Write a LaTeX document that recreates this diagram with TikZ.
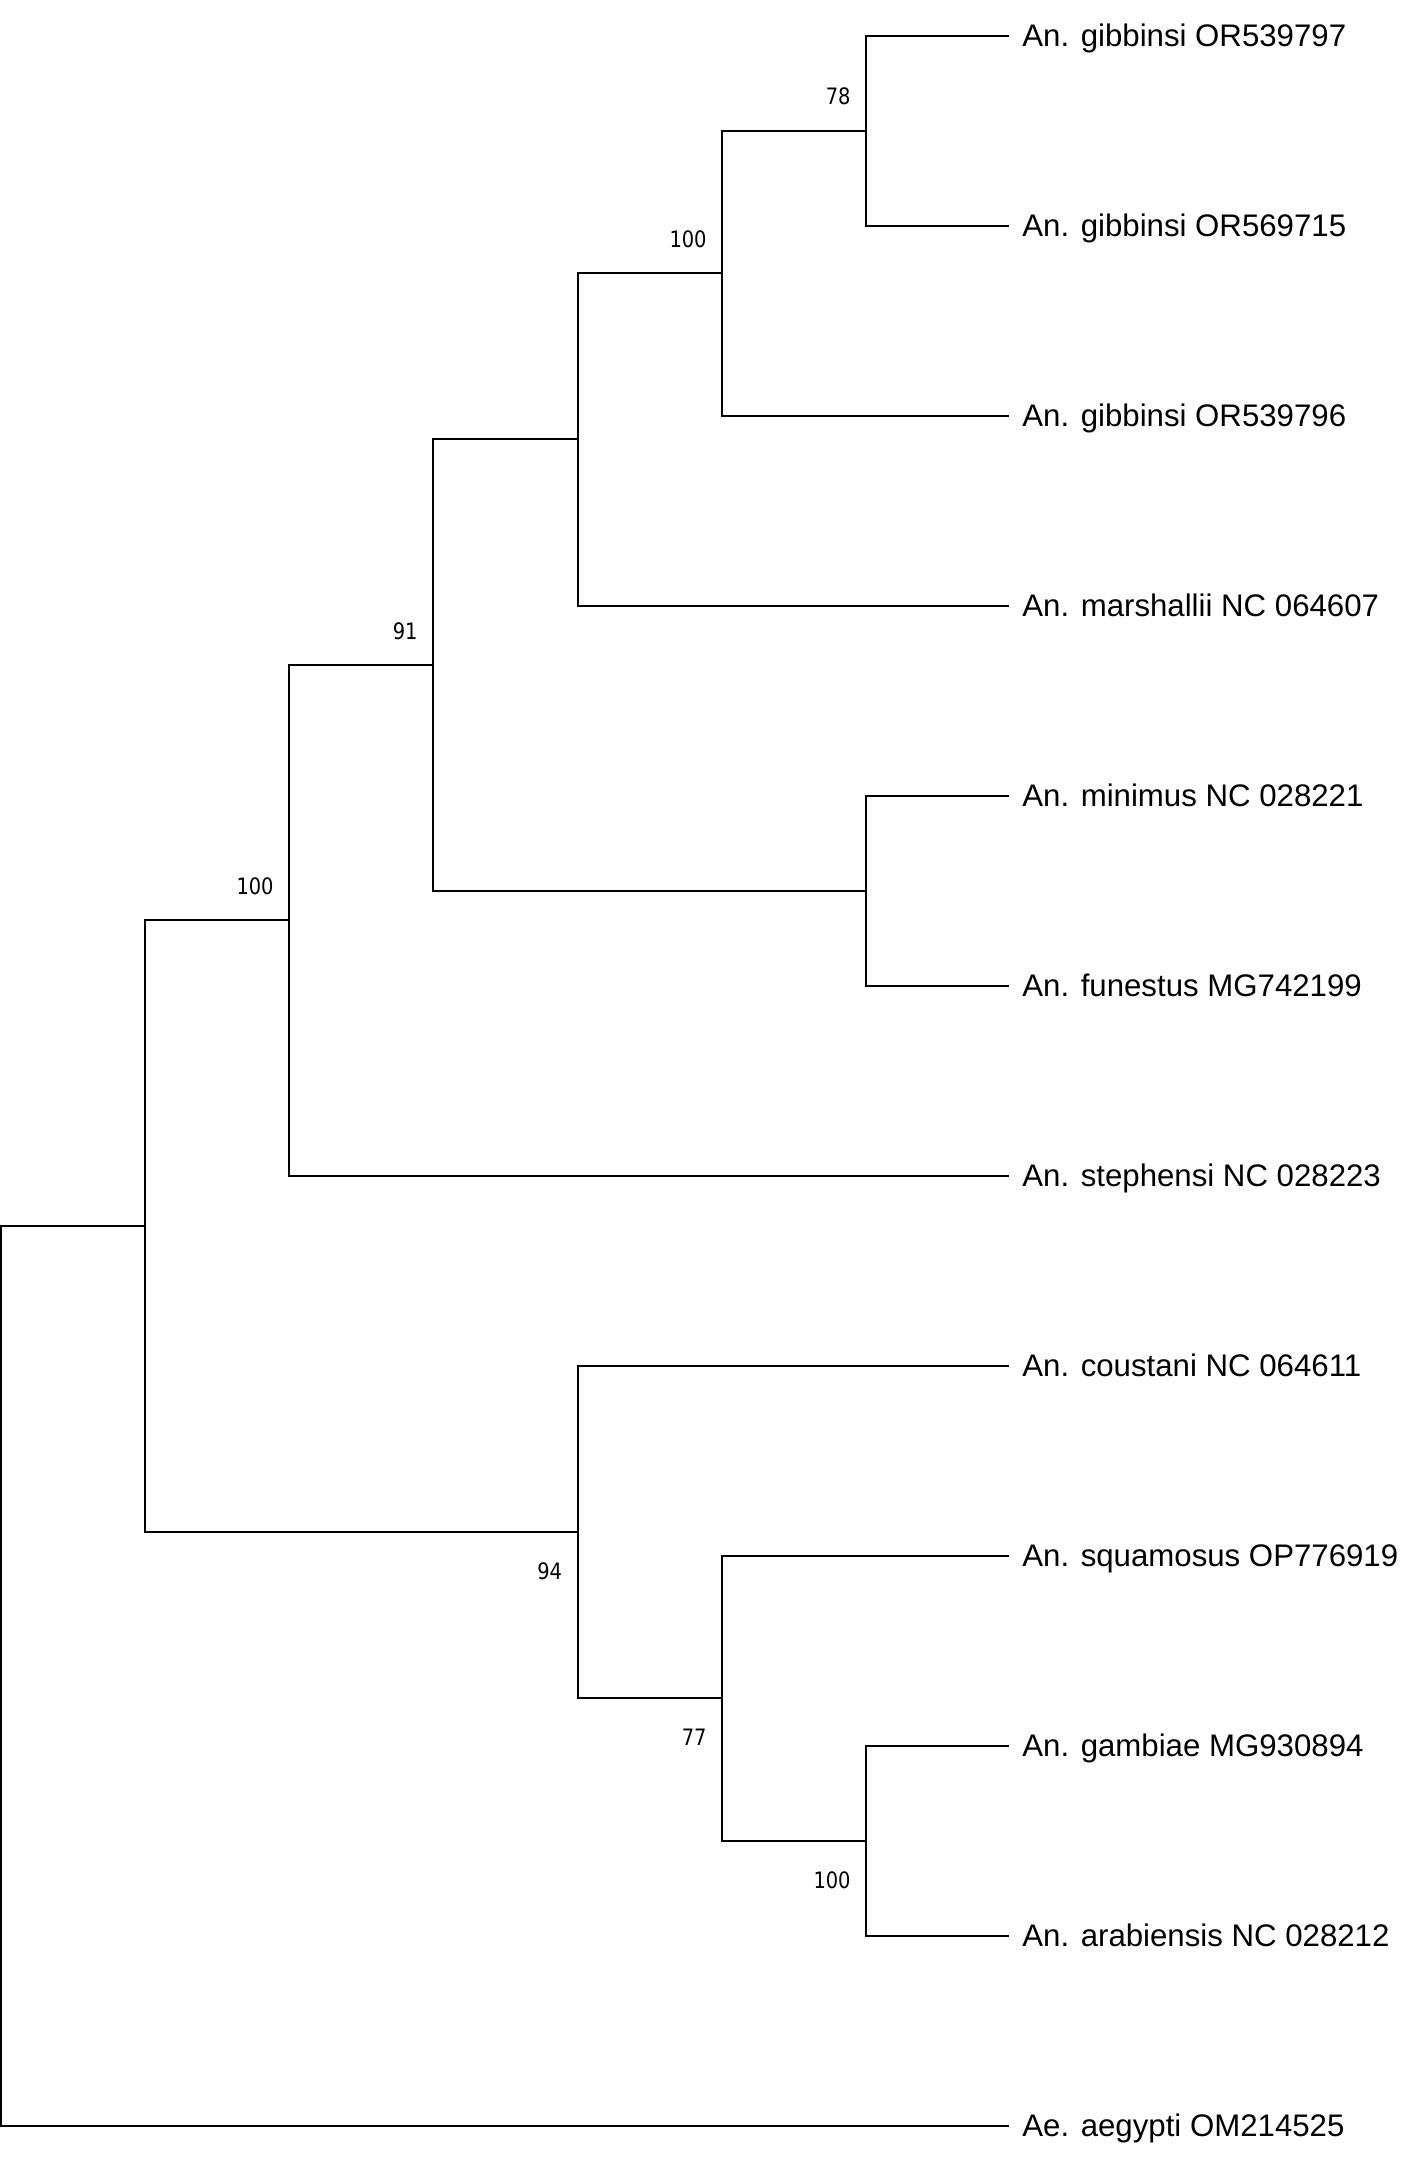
\documentclass[tikz,border=0pt]{standalone}
\usepackage{fontspec}
\setmainfont{Liberation Sans}
\newfontfamily\bsfont[FakeStretch=0.86]{DejaVu Sans}
\usetikzlibrary{calc}
\begin{document}
\begin{tikzpicture}[x=0.5pt,y=-0.5pt,
  branch/.style={line width=1pt, line cap=rect, line join=miter, black},
  leaf/.style={anchor=base west, inner sep=0pt, font=\fontsize{15.6pt}{19pt}\selectfont},
  boot/.style={anchor=base east, inner sep=0pt, font=\bsfont\fontsize{11.3pt}{13pt}\selectfont}]
\useasboundingbox (0,0) rectangle (1417,2160);
% leaf ends
\foreach \i/\t in {0/{An. gibbinsi OR539797},1/{An. gibbinsi OR569715},2/{An. gibbinsi OR539796},
  3/{An. marshallii NC 064607},4/{An. minimus NC 028221},5/{An. funestus MG742199},
  6/{An. stephensi NC 028223},7/{An. coustani NC 064611},8/{An. squamosus OP776919},
  9/{An. gambiae MG930894},10/{An. arabiensis NC 028212},11/{Ae. aegypti OM214525}}{
  \coordinate (e\i) at (1008,{35.7+190*\i});
  \node[leaf] (t\i) at (1022,{46.7+190*\i}) {\t};
}
% internal nodes
\coordinate (F) at (866,130.7);
\coordinate (E) at (722,273.2);
\coordinate (D) at (577.5,439.45);
\coordinate (G) at (866,890.7);
\coordinate (C) at (433,665.1);
\coordinate (B) at (289,920.4);
\coordinate (J) at (866,1840.7);
\coordinate (I) at (722,1698.2);
\coordinate (H) at (577.5,1531.9);
\coordinate (A) at (144.7,1226.2);
\coordinate (R) at (1,1676);
% branches
\draw[branch] (F) |- (e0);
\draw[branch] (F) |- (e1);
\draw[branch] (E) |- (F);
\draw[branch] (E) |- (e2);
\draw[branch] (D) |- (E);
\draw[branch] (D) |- (e3);
\draw[branch] (G) |- (e4);
\draw[branch] (G) |- (e5);
\draw[branch] (C) |- (D);
\draw[branch] (C) |- (G);
\draw[branch] (B) |- (C);
\draw[branch] (B) |- (e6);
\draw[branch] (J) |- (e9);
\draw[branch] (J) |- (e10);
\draw[branch] (I) |- (e8);
\draw[branch] (I) |- (J);
\draw[branch] (H) |- (e7);
\draw[branch] (H) |- (I);
\draw[branch] (A) |- (B);
\draw[branch] (A) |- (H);
\draw[branch] (R) |- (A);
\draw[branch] (R) |- (e11);
% bootstrap values
\node[boot] (bF) at ($(F)+(-15,-26)$) {78};
\node[boot] (bE) at ($(E)+(-15,-26)$) {100};
\node[boot] (bC) at ($(C)+(-15,-26)$) {91};
\node[boot] (bB) at ($(B)+(-15,-26)$) {100};
\node[boot] (bH) at ($(H)+(-15,47.5)$) {94};
\node[boot] (bI) at ($(I)+(-15,47.5)$) {77};
\node[boot] (bJ) at ($(J)+(-15,47.5)$) {100};
\end{tikzpicture}
\end{document}
